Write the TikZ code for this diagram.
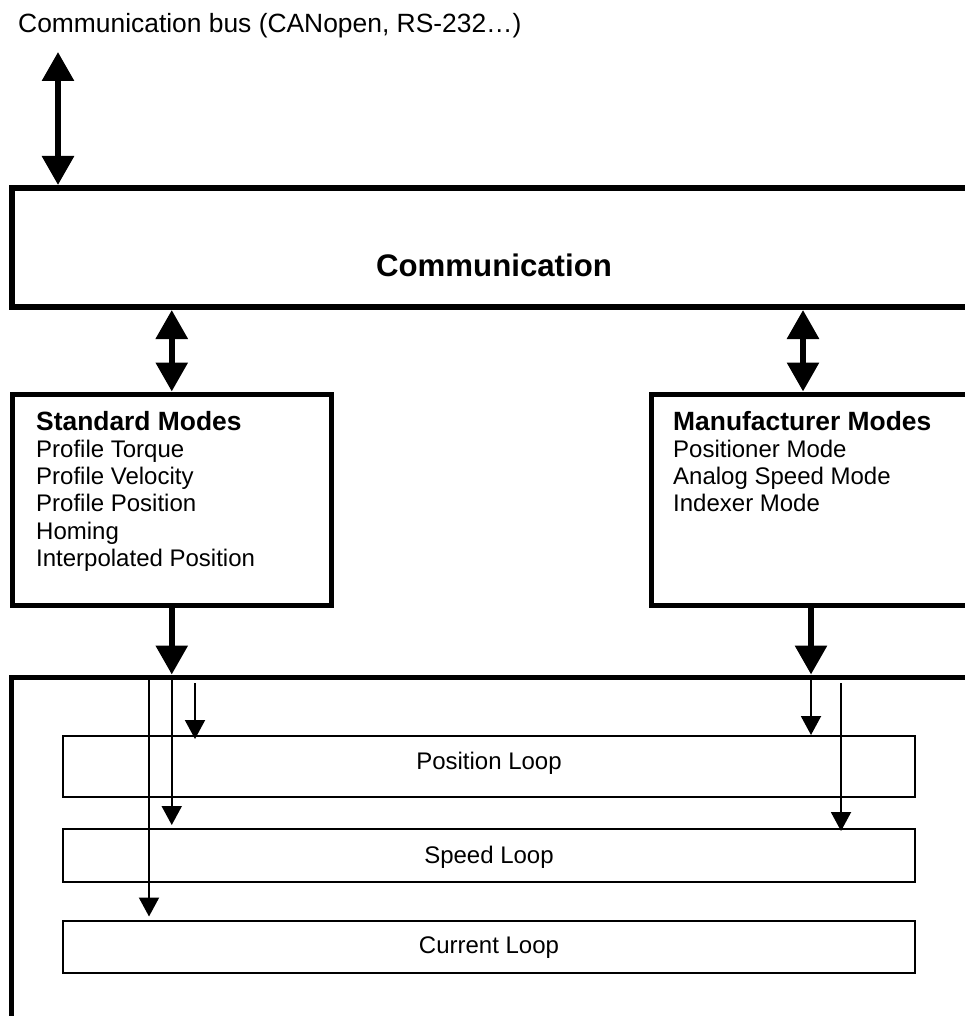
\documentclass[tikz,border=0pt]{standalone}
\usepackage{fontspec}
\setmainfont{Liberation Sans}
\usetikzlibrary{arrows.meta}
\begin{document}
\begin{tikzpicture}[x=1pt,y=-1pt,
  heavybox/.style={draw, rectangle, line width=6pt, inner sep=0pt},
  modebox/.style={draw, rectangle, line width=5pt, inner sep=0pt},
  loopbox/.style={draw, rectangle, line width=2pt, inner sep=0pt, minimum width=852pt},
  dbl/.style={line width=6pt, arrows={Triangle[width=31pt,length=29pt]-Triangle[width=31pt,length=29pt]}},
  down/.style={line width=6pt, arrows={-Triangle[width=31pt,length=29pt]}},
  feed/.style={line width=2pt, arrows={-Triangle[width=20pt,length=19pt]}},
  body/.style={font=\fontsize{24}{27.2}\selectfont, inner sep=0pt},
  head/.style={font=\bfseries\fontsize{26.4}{30}\selectfont, inner sep=0pt},
  buslabel/.style={font=\fontsize{26.4}{30}\selectfont, inner sep=0pt},
  title/.style={font=\bfseries\fontsize{31.2}{36}\selectfont, inner sep=0pt}]

\useasboundingbox (0,0) rectangle (965,1016);
\clip (0,0) rectangle (965,1016);

% bus label and bus connection
\node[buslabel, anchor=base west] (bus) at (18,33) {Communication bus (CANopen, RS-232…)};
\coordinate (busTop) at (58,52);

% main blocks (right sides run off the page)
\node[heavybox, minimum width=988pt, minimum height=119pt] (comm) at (506,247.5) {};
\node[title, anchor=base] (commT) at (494,276) {Communication};

\node[modebox, minimum width=318.5pt, minimum height=211pt] (std) at (171.75,499.5) {};
\node[modebox, minimum width=349pt, minimum height=211pt] (mfr) at (825.5,499.5) {};
\node[modebox, minimum width=989pt, minimum height=363pt] (ctrl) at (505.5,858.5) {};

% mode lists
\node[head, anchor=base west] (std0) at (36,430) {Standard Modes};
\node[body, anchor=base west] (std1) at (36,457.5) {Profile Torque};
\node[body, anchor=base west] (std2) at (36,484.7) {Profile Velocity};
\node[body, anchor=base west] (std3) at (36,511.9) {Profile Position};
\node[body, anchor=base west] (std4) at (36,539.1) {Homing};
\node[body, anchor=base west] (std5) at (36,566.3) {Interpolated Position};

\node[head, anchor=base west] (mfr0) at (673,430) {Manufacturer Modes};
\node[body, anchor=base west] (mfr1) at (673,457.5) {Positioner Mode};
\node[body, anchor=base west] (mfr2) at (673,484.7) {Analog Speed Mode};
\node[body, anchor=base west] (mfr3) at (673,511.9) {Indexer Mode};

% control loops
\node[loopbox, minimum height=61pt] (pos) at (489,766.5) {};
\node[loopbox, minimum height=53pt] (spd) at (489,855.5) {};
\node[loopbox, minimum height=52.5pt] (cur) at (489,946.75) {};
\node[body, anchor=base] (posT) at (489,769) {Position Loop};
\node[body, anchor=base] (spdT) at (489,863) {Speed Loop};
\node[body, anchor=base] (curT) at (489,953) {Current Loop};

% heavy connectors
\coordinate (mu) at (803,0);
\coordinate (md) at (811,0);
\draw[dbl] (busTop) -- (busTop |- comm.north);
\draw[dbl] (std.north |- comm.south) -- (std.north);
\draw[dbl] (mu |- comm.south) -- (mu |- mfr.north);
\draw[down] (std.south) -- (std.south |- ctrl.north);
\draw[down] (md |- mfr.south) -- (md |- ctrl.north);

% set-point feeds into the loops
\coordinate (fa) at (195,683);
\coordinate (fc) at (149,680);
\coordinate (fe) at (841,683);
\draw[feed, shorten >=-4pt] (fa) -- (fa |- pos.north);
\draw[feed, shorten >=3pt] (std.south |- ctrl.center) ++(0,-181) -- (std.south |- spd.north);
\draw[feed, shorten >=3pt] (fc) -- (fc |- cur.north);
\draw[feed] (md |- ctrl.north) -- (md |- pos.north);
\draw[feed, shorten >=-3pt] (fe) -- (fe |- spd.north);
\end{tikzpicture}
\end{document}
